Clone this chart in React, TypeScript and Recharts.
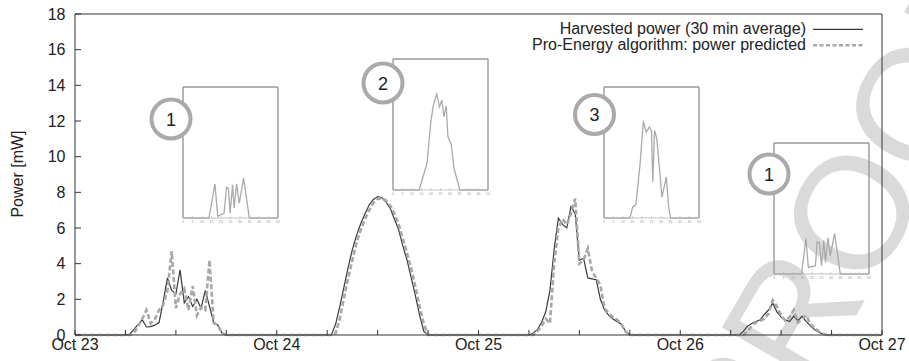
import React from 'react';
import { LineChart, Line, XAxis, YAxis, ReferenceLine } from 'recharts';

// ---------- data ----------
const dayLabels = ['Oct 23', 'Oct 24', 'Oct 25', 'Oct 26', 'Oct 27'];
const hourTicks = [0, 6, 12, 18, 24, 30, 36, 42, 48, 54, 60, 66, 72, 78, 84, 90, 96];
const powerTicks = [0, 2, 4, 6, 8, 10, 12, 14, 16, 18];

// each day's values start at 06:00 and advance in 30-min steps up to 18:00
const dayStartHour = 6;
const harvestedOct23 = [0, 0.05, 0.3, 0.6, 0.85, 0.45, 0.47, 0.55, 0.7, 1.9, 3.2, 2.5, 2.3, 3.65, 1.8, 2.15, 1.6, 2.0, 1.5, 2.5, 1.6, 0.7, 0.55, 0.1, 0];
const predictedOct23 = [0, 0, 0.1, 0.5, 0.9, 1.4, 0.65, 0.9, 1.4, 1.7, 2.5, 4.7, 1.5, 2.3, 2.6, 1.4, 2.75, 1.1, 1.55, 1.4, 4.2, 0.67, 0.55, 0.1, 0];
const harvestedOct24 = [0, 0, 0.6, 1.6, 2.7, 3.8, 4.8, 5.6, 6.25, 6.8, 7.3, 7.6, 7.76, 7.7, 7.45, 7.1, 6.5, 5.9, 5.0, 4.2, 3.2, 2.2, 1.1, 0.2, 0];
const predictedOct24 = [0, 0, 0.1, 0.9, 2.1, 3.2, 4.2, 5.2, 5.9, 6.5, 7.0, 7.4, 7.65, 7.65, 7.55, 7.25, 6.8, 6.2, 5.4, 4.6, 3.7, 2.7, 1.6, 0.6, 0];
const harvestedOct25 = [0, 0.1, 0.3, 0.7, 1.3, 2.5, 4.8, 6.55, 6.2, 6.0, 7.2, 6.8, 4.2, 4.3, 3.2, 3.15, 3.1, 2.0, 1.4, 1.1, 0.9, 0.75, 0.6, 0.2, 0];
const predictedOct25 = [0, 0, 0.2, 0.5, 0.9, 0.65, 4.0, 6.0, 6.5, 6.2, 6.8, 7.65, 4.0, 4.2, 4.85, 3.6, 3.2, 2.8, 1.5, 1.2, 1.0, 0.85, 0.6, 0.2, 0];
const harvestedOct26 = [0, 0, 0, 0.2, 0.5, 0.65, 0.75, 0.85, 1.15, 1.4, 1.8, 1.3, 1.0, 0.85, 0.75, 1.05, 0.8, 1.05, 0.75, 0.5, 0.3, 0.15, 0.05, 0, 0];
const predictedOct26 = [0, 0, 0, 0, 0.2, 0.5, 0.7, 0.8, 0.9, 1.2, 1.95, 1.6, 1.1, 0.8, 1.0, 1.4, 0.7, 0.9, 1.1, 0.6, 0.4, 0.2, 0.05, 0, 0];

const harvestedDays = [harvestedOct23, harvestedOct24, harvestedOct25, harvestedOct26];
const predictedDays = [predictedOct23, predictedOct24, predictedOct25, predictedOct26];

// inset profiles (x: 0..50, y: relative height 0..100)
const insetTicks = [0, 5, 10, 15, 20, 25, 30, 35, 40, 45, 50];
const inset1X = [0, 13.65, 16.8, 18.3, 21.6, 22.9, 23.9, 24.8, 26.1, 26.9, 28.2, 29.6, 31.9, 34.9, 50];
const inset1Y = [0, 0, 26, 1.3, 3.8, 23.5, 22.8, 3.8, 25.3, 7.6, 26, 11.4, 30.4, 0, 0];
const inset2X = [0, 13.75, 17.9, 20, 21.3, 23.0, 24.5, 25.7, 26.8, 28.0, 28.9, 30.7, 32.1, 35.2, 50];
const inset2Y = [0, 0, 20.4, 53.4, 64.9, 73.3, 63.6, 68.7, 56, 64.1, 40.7, 34.4, 16.5, 0, 0];
const inset3X = [0, 13.65, 15.1, 16.8, 19.0, 20.7, 22.2, 23.9, 25.0, 25.7, 26.6, 27.8, 30.5, 32.8, 34.0, 35.1, 50];
const inset3Y = [0, 0, 8.4, 10.2, 41.5, 73.8, 65.6, 69.5, 66.4, 27.5, 66.9, 60.6, 16, 31.3, 8.4, 0, 0];
const inset4X = [0, 14.5, 16.8, 18.1, 21.8, 22.7, 23.9, 25.0, 26.2, 27.1, 28.4, 29.6, 31.9, 34.9, 50];
const inset4Y = [0, 0, 27, 5, 6.3, 24.4, 24, 6.3, 25.7, 8.8, 27.7, 13.9, 31, 0, 0];
const insetLabels = ['1', '2', '3', '1'];

const legendLabels = ['Harvested power (30 min average)', 'Pro-Energy algorithm: power predicted'];
const watermarkText = 'PROOF';

// ---------- tables built from the arrays ----------
const mainData: { h: number; harvested: number; predicted: number }[] = [];
for (let i = 0; i <= 192; i++) {
  const h = i / 2;
  const day = Math.floor(h / 24);
  const idx = Math.round((h - day * 24 - dayStartHour) * 2);
  let hv = 0;
  let pv = 0;
  if (day < 4 && idx >= 0 && idx < harvestedDays[day].length) {
    hv = harvestedDays[day][idx];
    pv = predictedDays[day][idx];
  }
  mainData.push({ h, harvested: hv, predicted: pv });
}

const buildInset = (xs: number[], ys: number[]) => xs.map((x, i) => ({ x, y: ys[i] }));
const insetData = [
  buildInset(inset1X, inset1Y),
  buildInset(inset2X, inset2Y),
  buildInset(inset3X, inset3Y),
  buildInset(inset4X, inset4Y),
];

// ---------- layout ----------
const FONT = '"Liberation Sans", Arial, Helvetica, sans-serif';
const insetBoxes = [
  { left: 183, top: 87 },
  { left: 393, top: 59 },
  { left: 604, top: 87 },
  { left: 774, top: 143 },
];
const circleSpots = [
  { cx: 171, cy: 119 },
  { cx: 383, cy: 83 },
  { cx: 594.5, cy: 114.5 },
  { cx: 769, cy: 174 },
];
const INSET_W = 95;
const INSET_H = 131;

const XTick = (props: any) => {
  const { x, y, payload } = props;
  const v = payload.value as number;
  const isDay = v % 24 === 0;
  return (
    <g>
      <line x1={x} y1={y} x2={x} y2={y - 5} stroke="#333" strokeWidth={1} />
      {isDay && (
        <text x={x} y={y + 15} textAnchor="middle" fontSize={16} fill="#222" fontFamily={FONT}>
          {dayLabels[v / 24]}
        </text>
      )}
    </g>
  );
};

const YTick = (props: any) => {
  const { x, y, payload } = props;
  return (
    <g>
      <line x1={x} y1={y} x2={x + 6} y2={y} stroke="#333" strokeWidth={1} />
      <text x={x - 9.5} y={y + 5.7} textAnchor="end" fontSize={16} fill="#222" fontFamily={FONT}>
        {payload.value}
      </text>
    </g>
  );
};

const InsetTick = (props: any) => {
  const { x, y, payload } = props;
  return (
    <g>
      <line x1={x} y1={y} x2={x} y2={y - 1.5} stroke="#aaa" strokeWidth={0.8} />
      <text x={x} y={y + 5} textAnchor="middle" fontSize={3.5} fill="#999" fontFamily={FONT}>
        {payload.value}
      </text>
    </g>
  );
};

const YLabel = () => (
  <text
    x={23}
    y={174}
    transform="rotate(-90 23 174)"
    textAnchor="middle"
    fontSize={16}
    fill="#222"
    fontFamily={FONT}
  >
    Power [mW]
  </text>
);

export default function App() {
  return (
    <div style={{ position: 'absolute', left: 0, top: 0, width: 909, height: 361, background: '#fff', overflow: 'hidden' }}>
      {/* watermark */}
      <svg width={909} height={361} style={{ position: 'absolute', left: 0, top: 0 }}>
        <text
          transform="translate(850 212) rotate(-60)"
          x={-284}
          y={57}
          fontSize={160}
          fill="#dadada"
          fontFamily={FONT}
        >
          {watermarkText}
        </text>
      </svg>

      <div style={{ position: 'absolute', left: 0, top: 0 }}>
        <LineChart width={909} height={361} data={mainData} margin={{ top: 14, right: 27, left: 0, bottom: 0 }}>
          <XAxis
            dataKey="h"
            type="number"
            domain={[0, 96]}
            ticks={hourTicks}
            interval={0}
            height={26}
            tickSize={0}
            tickMargin={0}
            tickLine={false}
            axisLine={{ stroke: '#333', strokeWidth: 1 }}
            tick={(p: any) => <XTick {...p} />}
          />
          <YAxis
            type="number"
            domain={[0, 18]}
            ticks={powerTicks}
            interval={0}
            width={75}
            tickSize={0}
            tickMargin={0}
            tickLine={false}
            axisLine={{ stroke: '#333', strokeWidth: 1 }}
            tick={(p: any) => <YTick {...p} />}
            label={{ content: () => <YLabel /> }}
          />
          <ReferenceLine y={18} stroke="#333" strokeWidth={1} />
          <ReferenceLine x={96} stroke="#333" strokeWidth={1} />
          <Line
            type="linear"
            dataKey="harvested"
            stroke="#3a3a3a"
            strokeWidth={1.2}
            dot={false}
            isAnimationActive={false}
          />
          <Line
            type="linear"
            dataKey="predicted"
            stroke="#a8a8a8"
            strokeWidth={2.6}
            strokeDasharray="5 2.5"
            dot={false}
            isAnimationActive={false}
          />
        </LineChart>
      </div>

      {insetData.map((d, i) => (
        <div
          key={i}
          style={{ position: 'absolute', left: insetBoxes[i].left - 5, top: insetBoxes[i].top - 2 }}
        >
          <LineChart
            width={INSET_W + 10}
            height={INSET_H + 11}
            data={d}
            margin={{ top: 2, right: 5, left: 5, bottom: 0 }}
          >
            <XAxis
              dataKey="x"
              type="number"
              domain={[0, 50]}
              ticks={insetTicks}
              interval={0}
              height={9}
              tickSize={0}
              tickMargin={0}
              tickLine={false}
              axisLine={{ stroke: '#b5b5b5', strokeWidth: 0.8 }}
              tick={(p: any) => <InsetTick {...p} />}
            />
            <YAxis type="number" domain={[0, 100]} hide />
            <ReferenceLine x={0} stroke="#999" strokeWidth={1.4} />
            <ReferenceLine x={50} stroke="#999" strokeWidth={1.4} />
            <ReferenceLine y={100} stroke="#999" strokeWidth={1.4} />
            <Line
              type="linear"
              dataKey="y"
              stroke="#aaa"
              strokeWidth={1.3}
              dot={false}
              isAnimationActive={false}
            />
          </LineChart>
        </div>
      ))}

      {/* overlay: legend and numbered circles */}
      <svg width={909} height={361} style={{ position: 'absolute', left: 0, top: 0, pointerEvents: 'none' }}>
        <text x={806} y={33.5} textAnchor="end" fontSize={16} fill="#222" fontFamily={FONT}>
          {legendLabels[0]}
        </text>
        <line x1={813} y1={29.3} x2={863} y2={29.3} stroke="#3a3a3a" strokeWidth={1.2} />
        <text x={806} y={49.5} textAnchor="end" fontSize={16} fill="#222" fontFamily={FONT}>
          {legendLabels[1]}
        </text>
        <line x1={813} y1={45.3} x2={863} y2={45.3} stroke="#a8a8a8" strokeWidth={2.6} strokeDasharray="4 2.5" />

        {circleSpots.map((c, i) => (
          <g key={i}>
            <circle cx={c.cx} cy={c.cy} r={19.5} fill="#fff" stroke="#aaa" strokeWidth={4} />
            <text x={c.cx} y={c.cy + 6.5} textAnchor="middle" fontSize={18} fill="#222" fontFamily={FONT}>
              {insetLabels[i]}
            </text>
          </g>
        ))}
      </svg>
    </div>
  );
}
